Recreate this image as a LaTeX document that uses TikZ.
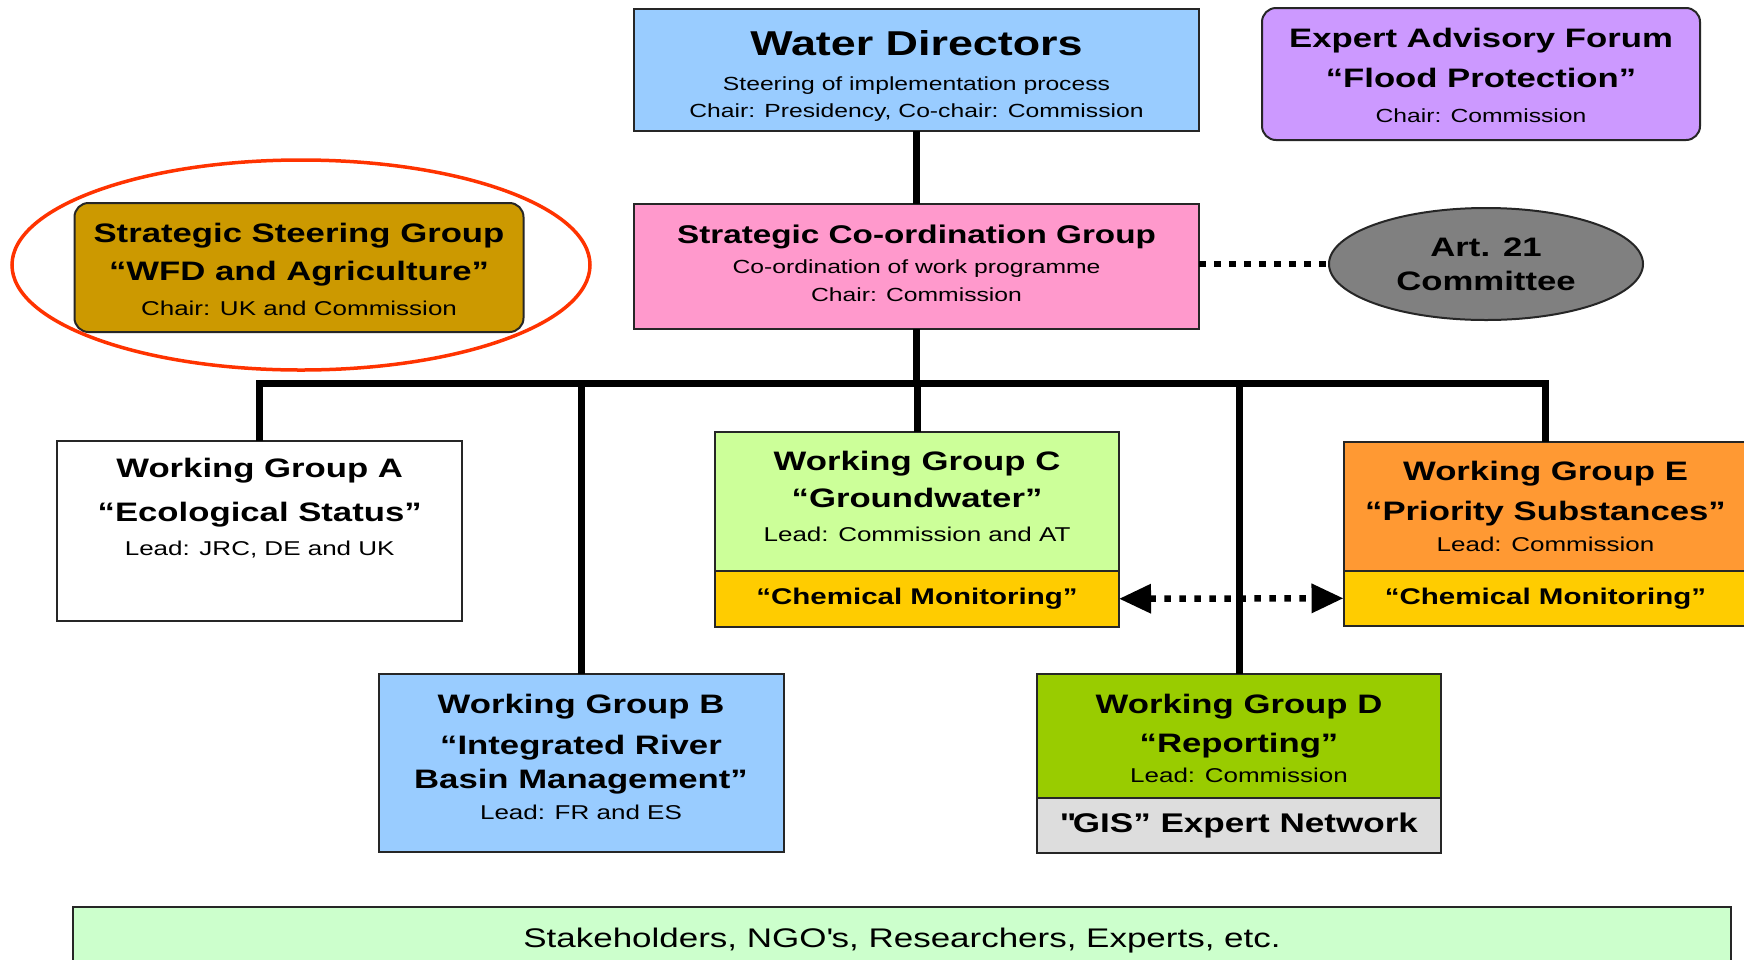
\documentclass[tikz,border=0pt]{standalone}
\usepackage{fontspec}
\setmainfont{Liberation Sans}[FakeStretch=1.3]
\usepackage{tikz}
\usetikzlibrary{arrows.meta,positioning,shapes.geometric}

\definecolor{wdblue}{HTML}{99CCFF}
\definecolor{eafpurple}{HTML}{CC99FF}
\definecolor{ssggold}{HTML}{CC9900}
\definecolor{scgpink}{HTML}{FF99CC}
\definecolor{artgray}{HTML}{808080}
\definecolor{wgcgreen}{HTML}{CCFF99}
\definecolor{wgdgreen}{HTML}{99CC00}
\definecolor{wgeorange}{HTML}{FF9933}
\definecolor{chemyellow}{HTML}{FFCC00}
\definecolor{gisgray}{HTML}{DDDDDD}
\definecolor{stakegreen}{HTML}{CCFFCC}
\definecolor{markred}{HTML}{FF3300}

\newcommand{\hugettl}{\fontsize{34.5}{40}\selectfont\bfseries}
\newcommand{\grpttl}{\fontsize{26.7}{40}\selectfont\bfseries}
\newcommand{\leadtxt}{\fontsize{20}{33}\selectfont\mdseries}

\tikzset{
  box/.style={draw=black!85, line width=2pt, outer sep=0pt, inner sep=0pt, minimum width=404pt},
  rbox/.style={box, rounded corners=14pt},
  txt/.style={align=center, inner sep=0pt, font=\grpttl},
  subtxt/.style={font=\fontsize{22.7}{27}\selectfont\bfseries},
  link/.style={line width=7pt},
  dotlink/.style={line width=6.5pt, dash pattern=on 6.5pt off 8.5pt},
  dotarrow/.style={dotlink, {Triangle[length=32pt,width=28pt]}-{Triangle[length=32pt,width=28pt]}},
}

\begin{document}
\begin{tikzpicture}[x=1pt, y=-1pt]
  \path[use as bounding box, fill=white] (0,0) rectangle (1744,959);

  % Top level
  \node[box, fill=wdblue, minimum width=565pt, minimum height=122pt] (wd) at (916.5,70) {};
  \node[txt, font=\fontsize{19}{26.5}\selectfont, below=21pt of wd.north] (wd-t)
    {{\hugettl Water Directors}\\[9pt]
     Steering of implementation process\\
     Chair: Presidency, Co-chair: Commission};

  \node[rbox, fill=eafpurple, minimum width=438pt, minimum height=132pt] (eaf) at (1481,74) {};
  \node[txt, below=20pt of eaf.north] (eaf-t)
    {Expert Advisory Forum\\“Flood Protection”\\[-5.4pt]{\leadtxt\fontsize{19}{33}\selectfont Chair: Commission}};

  % Steering and co-ordination
  \node[rbox, fill=ssggold, minimum width=449pt, minimum height=129pt] (ssg) at (299,267.5) {};
  \node[txt, below=20pt of ssg.north] (ssg-t)
    {Strategic Steering Group\\[-2pt]“WFD and Agriculture”\\[-5pt]{\leadtxt Chair: UK and Commission}};
  \draw[markred, line width=3.5pt] (301,265) ellipse [x radius=289pt, y radius=105pt];

  \node[box, fill=scgpink, minimum width=565pt, minimum height=125pt] (scg) at (916.5,266.5) {};
  \node[txt, font=\fontsize{19}{28}\selectfont, below=21pt of scg.north] (scg-t)
    {{\fontsize{25.6}{30}\selectfont\bfseries Strategic Co-ordination Group}\\[2pt]
     Co-ordination of work programme\\
     Chair: Commission};

  \node[ellipse, draw=black!85, line width=2pt, fill=artgray, inner sep=0pt,
        minimum width=314pt, minimum height=112pt, align=center,
        font=\fontsize{26.7}{34}\selectfont\bfseries] (art) at (1486,264) {Art. 21\\Committee};

  % Working groups
  \node[box, minimum width=405pt, minimum height=180pt] (wga) at (259.7,531) {};
  \node[txt, below=17pt of wga.north] (wga-t)
    {Working Group A\\[3.5pt]“Ecological Status”\\[-6pt]{\leadtxt Lead: JRC, DE and UK}};

  \node[box, fill=wdblue, minimum width=405pt, minimum height=178pt] (wgb) at (581,763) {};
  \node[txt, below=19.5pt of wgb.north] (wgb-t)
    {Working Group B\\[1pt]“Integrated River\\[-5.5pt]Basin Management”\\[-9pt]{\leadtxt Lead: FR and ES}};

  \node[box, fill=wgcgreen, minimum height=139pt] (wgc) at (917,501.5) {};
  \node[box, fill=chemyellow, minimum height=55.5pt, below=0pt of wgc, subtxt] (wgc-s) {“Chemical Monitoring”};
  \node[txt, below=19pt of wgc.north] (wgc-t)
    {Working Group C\\[-3.5pt]“Groundwater”\\[-5.5pt]{\leadtxt Lead: Commission and AT}};

  \node[box, fill=wgdgreen, minimum height=124pt] (wgd) at (1239,736) {};
  \node[box, fill=gisgray, minimum height=55pt, below=0pt of wgd, font=\fontsize{27}{30}\selectfont\bfseries] (wgd-s) {\textquotedbl GIS” Expert Network};
  \node[txt, below=19.5pt of wgd.north] (wgd-t)
    {Working Group D\\[-1pt]“Reporting”\\[-9.5pt]{\leadtxt Lead: Commission}};

  \node[box, fill=wgeorange, minimum height=129pt] (wge) at (1545.5,506.3) {};
  \node[box, fill=chemyellow, minimum height=55pt, below=0pt of wge, subtxt] (wge-s) {“Chemical Monitoring”};
  \node[txt, below=19.3pt of wge.north] (wge-t)
    {Working Group E\\“Priority Substances”\\[-9pt]{\leadtxt Lead: Commission}};

  % Stakeholders
  \node[box, fill=stakegreen, minimum width=1658pt, minimum height=68pt,
        font=\fontsize{26.9}{30}\selectfont] (stake) at (902,941) {Stakeholders, NGO\textquotesingle s, Researchers, Experts, etc.};

  % Connectors
  \draw[dotlink] (scg.east |- art.west) -- (art.west);
  \draw[dotarrow] (wgc-s.east) -- (wge-s.west);

  \coordinate (bus) at (916.5,383);
  \draw[link] (wd.south) -- (scg.north);
  \draw[link] (scg.south) -- (bus);
  \draw[link] (wga.north) -- (wga.north |- bus) -- (wge.north |- bus) -- (wge.north);
  \foreach \g in {wgb,wgc,wgd} { \draw[link] (\g.north) -- (\g.north |- bus); }
\end{tikzpicture}
\end{document}
